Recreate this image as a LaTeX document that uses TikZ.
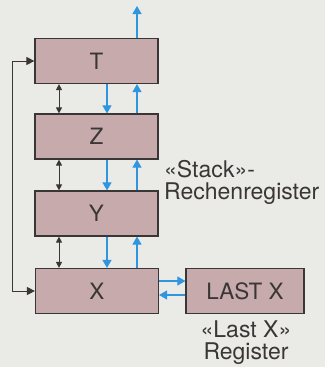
\documentclass[tikz,border=0pt]{standalone}
\usepackage{fontspec}
\setmainfont{TeX Gyre Heros}
\usetikzlibrary{arrows.meta}
\definecolor{bg}{HTML}{EAEAE7}
\definecolor{boxfill}{HTML}{C7AAAB}
\definecolor{blu}{HTML}{2E96E0}
\definecolor{edge}{HTML}{3A3636}
\begin{document}
\begin{tikzpicture}[x=1pt,y=-1pt,
 reg/.style={draw=edge, line width=1.2pt, fill=boxfill, minimum width=123pt, minimum height=45pt, inner sep=0pt, font=\fontsize{22.5}{22.5}\selectfont, text=edge},
 bluearrow/.style={draw=blu, line width=1.1pt, -{Triangle[length=8pt,width=9pt]}},
 blkdouble/.style={draw=edge, line width=1pt, {Triangle[length=6pt,width=6pt]}-{Triangle[length=6pt,width=6pt]}},
 feedback/.style={draw=edge, line width=1pt, {Triangle[length=8pt,width=8pt]}-{Triangle[length=8pt,width=8pt]}},
 lbl/.style={font=\fontsize{23}{23}\selectfont, text=edge, inner sep=0pt}
]
\fill[bg] (0,0) rectangle (325,367);
\useasboundingbox (0,0) rectangle (325,367);
\node[reg] (T) at (96.5,61) {T};
\node[reg] (Z) at (96.5,136.5) {Z};
\node[reg] (Y) at (96.5,213.5) {Y};
\node[reg] (X) at (97,291) {X};
\node[reg, minimum width=118pt] (L) at (245,291) {LAST X};
\coordinate (dn) at (107,0);
\coordinate (up) at (137,0);
\coordinate (bl) at (59,0);
\coordinate (fb) at (12,0);
\coordinate (top) at (137,6);
\draw[bluearrow] (T.north -| up) -- (top);
\foreach \a/\b in {T/Z, Z/Y, Y/X} {
  \draw[bluearrow] (\a.south -| dn) -- (\b.north -| dn);
  \draw[bluearrow] (\b.north -| up) -- (\a.south -| up);
  \draw[blkdouble] (\a.south -| bl) -- (\b.north -| bl);
}
\draw[feedback] (X.west) -- (X.west -| fb) -- (T.west -| fb) -- (T.west);
\draw[bluearrow] ([yshift=10pt]X.east) -- ([yshift=10pt]L.west);
\draw[bluearrow] ([yshift=-4pt]L.west) -- ([yshift=-4pt]X.east);
\node[lbl, anchor=north west, align=left] (st) at (164,160) {«Stack»-\\[-1pt]Rechenregister};
\node[lbl, anchor=north, align=center] (lx) at (246,321) {«Last X»\\[-1pt]Register};
\end{tikzpicture}
\end{document}
